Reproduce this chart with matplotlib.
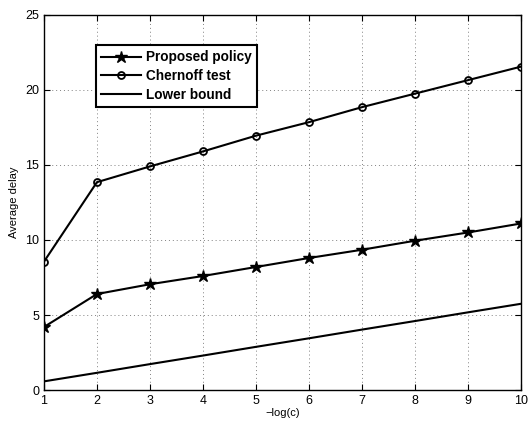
import matplotlib
matplotlib.use('Agg')
from matplotlib import pyplot as plt

plt.rcParams['font.family'] = ['Liberation Sans', 'DejaVu Sans']

x = [1, 2, 3, 4, 5, 6, 7, 8, 9, 10]
proposed = [4.2, 6.4, 7.05, 7.6, 8.2, 8.8, 9.35, 9.95, 10.5, 11.1]
chernoff = [8.55, 13.85, 14.9, 15.9, 16.95, 17.85, 18.85, 19.75, 20.65, 21.55]
lower = [0.58, 1.15, 1.73, 2.30, 2.88, 3.45, 4.03, 4.60, 5.18, 5.75]

fig = plt.figure(figsize=(5.29, 4.24), dpi=100)
ax = fig.add_axes([0.083, 0.080, 0.902, 0.885])

ax.plot(x, proposed, 'k-', marker='*', markersize=9, linewidth=1.5, label='Proposed policy')
ax.plot(x, chernoff, 'k-', marker='o', markersize=5, markerfacecolor='none',
        markeredgewidth=1.3, linewidth=1.5, label='Chernoff test')
ax.plot(x, lower, 'k-', linewidth=1.5, label='Lower bound')

ax.set_xlim(1, 10)
ax.set_ylim(0, 25)
ax.set_xticks(x)
ax.set_yticks([0, 5, 10, 15, 20, 25])
ax.tick_params(direction='in', top=True, right=True, labelsize=9, length=4)
ax.grid(True, linestyle=(0, (1, 3)), color='gray', linewidth=0.7)
for s in ax.spines.values():
    s.set_linewidth(1.0)

ax.set_xlabel('\u2212log(c)', fontsize=8, labelpad=1)
ax.set_ylabel('Average delay', fontsize=8, labelpad=4)

leg = ax.legend(loc='upper left', bbox_to_anchor=(0.109, 0.92), borderaxespad=0,
                fancybox=False, edgecolor='black', framealpha=1,
                prop={'weight': 'bold', 'size': 9.8},
                handlelength=2.9, borderpad=0.4, labelspacing=0.35, handletextpad=0.4)
leg.get_frame().set_linewidth(1.5)

plt.savefig('out.png', dpi=100)
